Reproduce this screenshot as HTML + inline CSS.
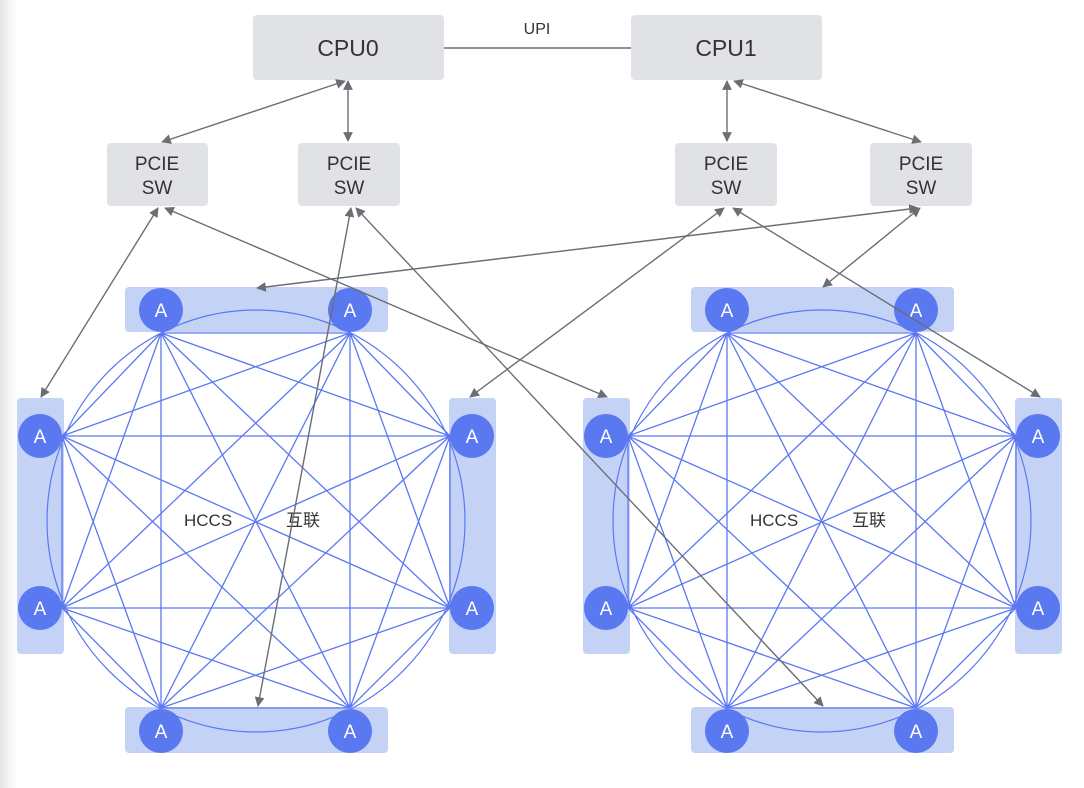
<!DOCTYPE html>
<html><head><meta charset="utf-8"><style>
html,body{margin:0;padding:0}
body{width:1084px;height:788px;overflow:hidden;background:linear-gradient(to right,#e4e4e4 0px,#f6f6f6 10px,#fff 18px);font-family:"Liberation Sans","Noto Sans CJK SC",sans-serif}
svg{position:absolute;left:0;top:0}
</style></head><body>
<svg width="1084" height="788" viewBox="0 0 1084 788" xmlns="http://www.w3.org/2000/svg">
<defs>
<marker id="ar" viewBox="0 0 10 10" refX="9" refY="5" markerWidth="7" markerHeight="7" orient="auto-start-reverse"><path d="M0,0 L10,5 L0,10 z" fill="#6b6e75"/></marker>
<g id="cl">
<rect x="125" y="287" width="263" height="45" rx="4" fill="#c4d2f5"/>
<rect x="125" y="707" width="263" height="46" rx="4" fill="#c4d2f5"/>
<rect x="17" y="398" width="47" height="256" rx="4" fill="#c4d2f5"/>
<rect x="449" y="398" width="47" height="256" rx="4" fill="#c4d2f5"/>
<ellipse cx="256" cy="521" rx="209" ry="211" fill="none" stroke="#5b78f2" stroke-width="1.2"/>
<g stroke="#5b78f2" stroke-width="1.3" fill="none">
<path d="M161,333L350,333M161,333L450,436M161,333L450,608M161,333L350,708M161,333L161,708M161,333L62,608M161,333L62,436
M350,333L450,436M350,333L450,608M350,333L350,708M350,333L161,708M350,333L62,608M350,333L62,436
M450,436L450,608M450,436L350,708M450,436L161,708M450,436L62,608M450,436L62,436
M450,608L350,708M450,608L161,708M450,608L62,608M450,608L62,436
M350,708L161,708M350,708L62,608M350,708L62,436
M161,708L62,608M161,708L62,436M62,608L62,436"/>
</g>
<g fill="#5a78f0">
<circle cx="161" cy="310" r="22"/><circle cx="350" cy="310" r="22"/>
<circle cx="161" cy="731" r="22"/><circle cx="350" cy="731" r="22"/>
<circle cx="40" cy="436" r="22"/><circle cx="40" cy="608" r="22"/>
<circle cx="472" cy="436" r="22"/><circle cx="472" cy="608" r="22"/>
</g>
</g>
</defs>
<use href="#cl"/>
<use href="#cl" x="566"/>
<g fill="#fff" font-size="19" text-anchor="middle" font-family="Liberation Sans,sans-serif">
<text x="161" y="317">A</text><text x="350" y="317">A</text><text x="161" y="738">A</text><text x="350" y="738">A</text>
<text x="40" y="443">A</text><text x="40" y="615">A</text><text x="472" y="443">A</text><text x="472" y="615">A</text>
<text x="727" y="317">A</text><text x="916" y="317">A</text><text x="727" y="738">A</text><text x="916" y="738">A</text>
<text x="606" y="443">A</text><text x="606" y="615">A</text><text x="1038" y="443">A</text><text x="1038" y="615">A</text>
</g>
<g fill="#333" font-size="17" font-family="Liberation Sans,Noto Sans CJK SC,sans-serif">
<text x="184" y="526">HCCS</text><text x="286" y="526">互联</text>
<text x="750" y="526">HCCS</text><text x="852" y="526">互联</text>
</g>
<g fill="#e1e2e6">
<rect x="253" y="15" width="191" height="65" rx="4"/>
<rect x="631" y="15" width="191" height="65" rx="4"/>
<rect x="107" y="143" width="101" height="63" rx="4"/>
<rect x="298" y="143" width="102" height="63" rx="4"/>
<rect x="675" y="143" width="102" height="63" rx="4"/>
<rect x="870" y="143" width="102" height="63" rx="4"/>
</g>
<line x1="444" y1="48" x2="631" y2="48" stroke="#6b6e75" stroke-width="1.5"/>
<g fill="#333" text-anchor="middle" font-family="Liberation Sans,sans-serif">
<text x="537" y="34" font-size="16">UPI</text>
<text x="348" y="56" font-size="23">CPU0</text>
<text x="726" y="56" font-size="23">CPU1</text>
<g font-size="19">
<text x="157" y="170">PCIE</text><text x="157" y="194">SW</text>
<text x="349" y="170">PCIE</text><text x="349" y="194">SW</text>
<text x="726" y="170">PCIE</text><text x="726" y="194">SW</text>
<text x="921" y="170">PCIE</text><text x="921" y="194">SW</text>
</g>
</g>
<g stroke="#6b6e75" stroke-width="1.4" fill="none" marker-start="url(#ar)" marker-end="url(#ar)">
<line x1="345" y1="81" x2="162" y2="142"/>
<line x1="348" y1="81" x2="348" y2="141"/>
<line x1="727" y1="81" x2="727" y2="141"/>
<line x1="734" y1="81" x2="921" y2="142"/>
<line x1="158" y1="208" x2="41" y2="397"/>
<line x1="165" y1="208" x2="607" y2="397"/>
<line x1="351" y1="208" x2="258" y2="706"/>
<line x1="356" y1="208" x2="823" y2="706"/>
<line x1="724" y1="208" x2="470" y2="397"/>
<line x1="733" y1="208" x2="1040" y2="397"/>
<line x1="918" y1="208" x2="257" y2="288"/>
<line x1="920" y1="208" x2="823" y2="287"/>
</g>
</svg>
</body></html>
